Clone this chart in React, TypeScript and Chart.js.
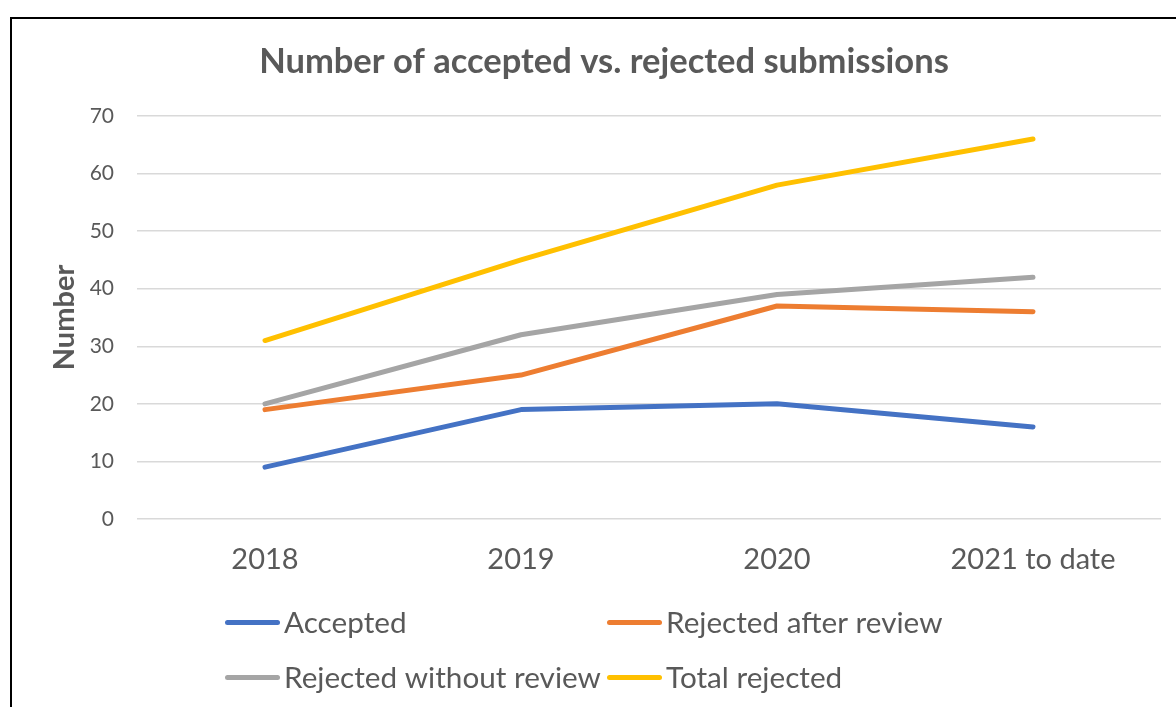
import React, { useEffect, useRef } from "react";
import { Chart, registerables } from "chart.js";

Chart.register(...registerables);

const categories = ["2018", "2019", "2020", "2021 to date"];
const accepted = [9, 19, 20, 16];
const rejectedAfterReview = [19, 25, 37, 36];
const rejectedWithoutReview = [20, 32, 39, 42];
const totalRejected = [31, 45, 58, 66];
const seriesNames = ["Accepted", "Rejected after review", "Rejected without review", "Total rejected"];
const seriesColors = ["#4472C4", "#ED7D31", "#A5A5A5", "#FFC000"];
const yTicks = [0, 10, 20, 30, 40, 50, 60, 70];

const TEXT = "#595959";
const FONT = "Lato";

const gridLegend = {
  id: "gridLegend",
  afterDraw(chart: any) {
    const ctx = chart.ctx;
    const cols = [225, 607];
    const rows = [622.5, 677.5];
    ctx.save();
    chart.data.datasets.forEach((ds: any, i: number) => {
      const x = cols[i % 2];
      const y = rows[Math.floor(i / 2)];
      ctx.strokeStyle = ds.borderColor;
      ctx.lineWidth = 5;
      ctx.lineCap = "round";
      ctx.beginPath();
      ctx.moveTo(x + 2.5, y);
      ctx.lineTo(x + 52.5, y);
      ctx.stroke();
      ctx.fillStyle = TEXT;
      ctx.font = `29.7px ${FONT}`;
      ctx.textAlign = "left";
      ctx.textBaseline = "alphabetic";
      ctx.fillText(ds.label, x + 59, y + 10.5);
    });
    ctx.restore();
  },
};

export default function App() {
  const ref = useRef<HTMLCanvasElement | null>(null);
  useEffect(() => {
    if (!ref.current) return;
    const values = [accepted, rejectedAfterReview, rejectedWithoutReview, totalRejected];
    const chart = new Chart(ref.current, {
      type: "line",
      data: {
        labels: categories,
        datasets: values.map((v, i) => ({
          label: seriesNames[i],
          data: v,
          borderColor: seriesColors[i],
          backgroundColor: seriesColors[i],
          borderWidth: 5,
          borderCapStyle: "round",
          borderJoinStyle: "round",
          pointRadius: 0,
          tension: 0,
        })),
      },
      options: {
        responsive: false,
        animation: false,
        devicePixelRatio: 1,
        layout: { padding: { top: 24, left: 47, right: 15, bottom: 108 } },
        plugins: {
          legend: { display: false },
          tooltip: { enabled: false },
          title: {
            display: true,
            text: "Number of accepted vs. rejected submissions",
            color: TEXT,
            font: { family: FONT, size: 34.5, weight: "bold" },
            padding: { top: 17, bottom: 33.6 },
          },
        },
        scales: {
          x: {
            offset: true,
            grid: { display: false, drawTicks: false },
            border: { display: false },
            ticks: { color: TEXT, font: { family: FONT, size: 29 }, padding: 23, maxRotation: 0 },
            afterFit: (s: any) => { s.height = 80; },
          },
          y: {
            min: 0,
            max: 70,
            afterBuildTicks: (s: any) => { s.ticks = yTicks.map((v) => ({ value: v })); },
            grid: { color: "#D9D9D9", lineWidth: 1.5, drawTicks: false },
            border: { display: false },
            ticks: { color: TEXT, font: { family: FONT, size: 21 }, padding: 23 },
            title: {
              display: true,
              text: "Number",
              color: TEXT,
              font: { family: FONT, size: 29, weight: "bold" },
              padding: 0,
            },
            afterFit: (s: any) => { s.width = 90; },
          },
        },
      },
      plugins: [gridLegend],
    });
    return () => chart.destroy();
  }, []);
  return (
    <div style={{ position: "fixed", left: 0, top: 0, width: 1176, height: 707, overflow: "hidden", background: "#fff" }}>
      <div style={{ position: "absolute", left: 10, top: 17, width: 1300, height: 1000, border: "2px solid #000", boxSizing: "border-box" }} />
      <canvas ref={ref} width={1176} height={707} style={{ position: "absolute", left: 0, top: 0 }} />
    </div>
  );
}
